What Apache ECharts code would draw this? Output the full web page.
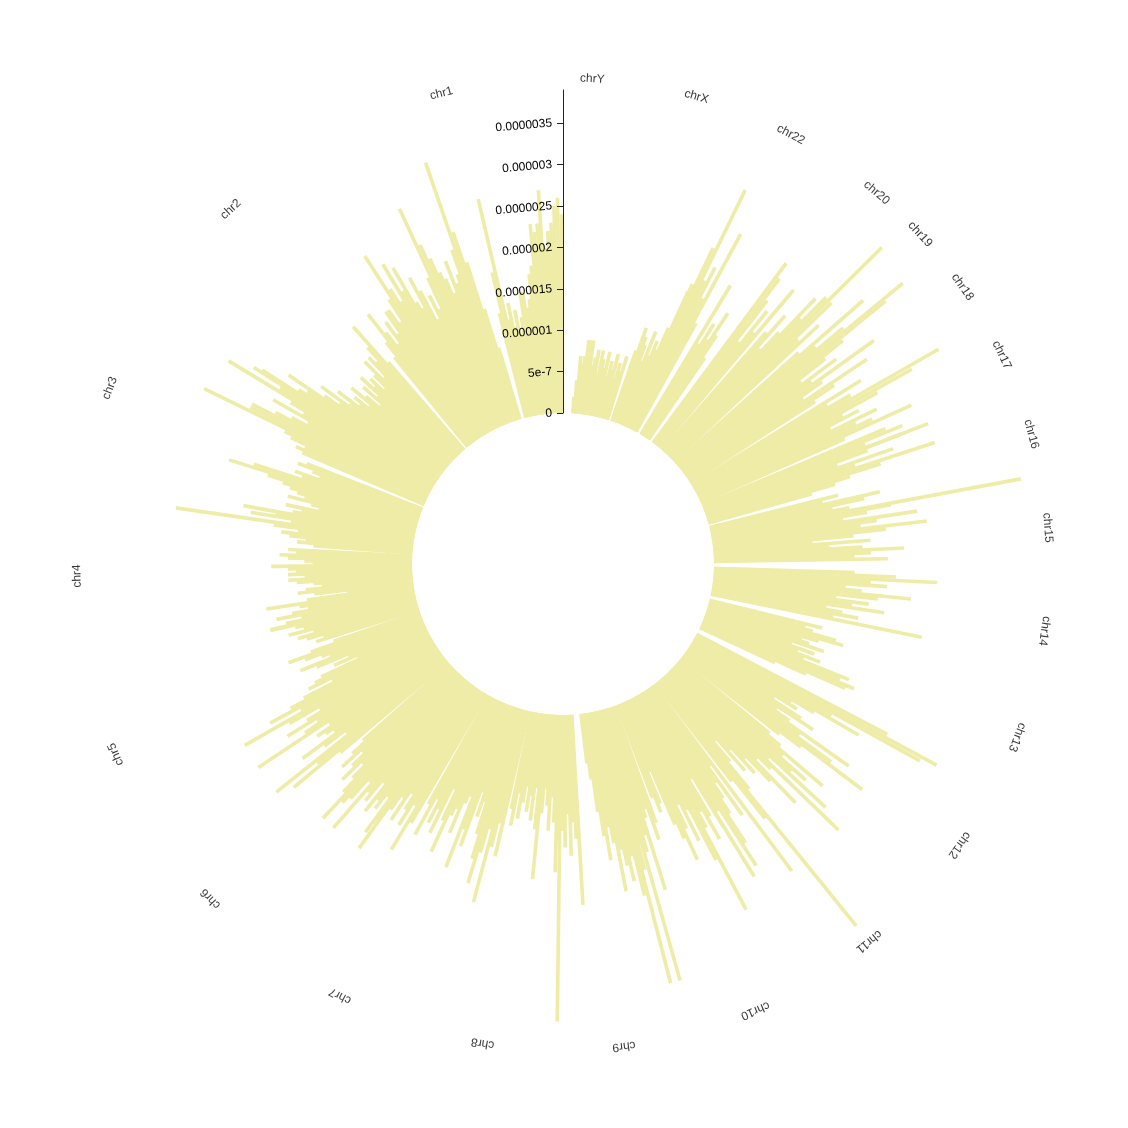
<!DOCTYPE html>
<html>
<head>
<meta charset="utf-8">
<title>Genome-wide circular bar chart</title>
<script src="https://cdn.jsdelivr.net/npm/echarts@6/dist/echarts.min.js"></script>
<style>
  html, body { margin: 0; padding: 0; background: #fff; }
  #main { width: 1128px; height: 1128px; }
</style>
</head>
<body>
<div id="main"></div>
<script>
// chromosomes, counter-clockwise from the top
const chromNames = ['chr1', 'chr2', 'chr3', 'chr4', 'chr5', 'chr6', 'chr7', 'chr8', 'chr9', 'chr10', 'chr11', 'chr12',
  'chr13', 'chr14', 'chr15', 'chr16', 'chr17', 'chr18', 'chr19', 'chr20', 'chr21', 'chr22', 'chrX', 'chrY'];
// chr21 has no label in the original
const chromLabels = ['chr1', 'chr2', 'chr3', 'chr4', 'chr5', 'chr6', 'chr7', 'chr8', 'chr9', 'chr10', 'chr11', 'chr12',
  'chr13', 'chr14', 'chr15', 'chr16', 'chr17', 'chr18', 'chr19', 'chr20', '', 'chr22', 'chrX', 'chrY'];
const chromLengthsMb = [249.25, 243.2, 198.02, 191.15, 180.92, 171.12, 159.14, 146.36, 141.21, 135.53, 135.01, 133.85,
  115.17, 107.35, 102.53, 90.35, 81.2, 78.08, 59.13, 63.03, 48.13, 51.3, 155.27, 59.37];
const BIN_MB = 5;

// bin values, in units of 1e-7
const chr1 = [24, 26, 25, 23, 22, 20, 27, 23, 22, 23, 18, 17, 14, 13, 15, 15, 12, 10, 13, 11, 14, 12, 27, 18,
  13, 0, 0, 0, 9, 14, 20, 24, 33, 22, 19, 18, 21, 17, 19, 20, 22, 24, 29, 20, 16, 18, 15, 19, 21, 17];
const chr2 = [18, 23, 20, 24, 19, 21, 26, 20, 17, 19, 19, 16, 18, 15, 17, 20, 16, 14, 0, 0,
  14, 20, 17, 15, 16, 13, 16, 14, 12, 14, 13, 15, 12, 14, 11, 13, 15, 12, 14, 13, 16, 14, 18, 15, 17, 22, 19, 20, 25];
const chr3 = [26, 22, 29, 20, 18, 22, 17, 19, 21, 24, 24, 30, 19, 18, 16, 17, 16, 0, 0, 15,
  16, 14, 13, 16, 15, 21, 24, 19, 17, 16, 15, 14, 16, 13, 12, 16, 14, 15, 21, 17];
const chr4 = [20, 15, 29, 17, 14, 16, 15, 13, 14, 12, 0, 15, 14, 16, 15, 13, 12, 17, 15, 14,
  15, 13, 15, 14, 12, 11, 13, 14, 12, 8, 13, 18, 14, 13, 15, 17, 14, 16, 18];
const chr5 = [18, 15, 14, 16, 13, 15, 14, 12, 13, 0, 11, 14, 17, 15, 13, 12, 16, 14, 10, 12,
  9, 14, 15, 16, 13, 17, 19, 22, 18, 26, 20, 16, 18, 21, 17, 19, 26];
const chr6 = [14, 16, 18, 17, 16, 21, 18, 15, 26, 20, 24, 17, 0, 14, 16, 18, 15, 17, 19, 16,
  18, 20, 24, 21, 20, 17, 24, 18, 19, 16, 20, 18, 19, 17, 22];
const chr7 = [20, 24, 18, 16, 19, 15, 17, 19, 16, 22, 18, 0, 15, 19, 14, 17, 15, 18, 12, 16,
  20, 15, 14, 17, 13, 12, 21, 16, 18, 11, 14, 12];
const chr8 = [16, 19, 22, 18, 15, 24, 17, 14, 18, 0, 12, 14, 10, 13, 11, 9, 12, 10, 13, 9,
  14, 20, 12, 9, 11, 14, 10, 13, 19, 15];
const chr9 = [37, 14, 16, 12, 17, 13, 15, 23, 0, 0, 0, 0, 0, 6, 8, 12, 15, 18, 14, 16,
  22, 17, 19, 21, 18, 23, 34, 20, 17];
const chr10 = [34, 18, 16, 23, 14, 13, 17, 15, 0, 12, 14, 13, 9, 16, 18, 21, 17, 14, 19, 15,
  22, 29, 18, 16, 20, 17, 12, 19];
const chr11 = [26, 17, 25, 22, 18, 16, 14, 19, 12, 28, 0, 15, 21, 38, 17, 13, 10, 15, 12, 16,
  14, 18, 22, 15, 17, 28, 16];
const chr12 = [25, 19, 21, 17, 23, 16, 14, 0, 15, 18, 27, 22, 17, 24, 15, 13, 18, 16, 12, 15,
  14, 17, 23, 19, 31, 33, 26];
const chr13 = [0, 0, 0, 0, 10, 14, 19, 20, 18, 19, 13, 15, 12, 14, 11, 15, 13, 12, 14, 17, 16, 13, 12, 14];
const chr14 = [0, 0, 0, 0, 26, 15, 18, 16, 14, 21, 17, 19, 15, 20, 24, 18, 16, 21, 19, 27, 22, 17];
const chr15 = [0, 0, 0, 0, 21, 17, 19, 23, 18, 14, 19, 12, 17, 21, 26, 18, 20, 25, 16, 19, 22];
const chr16 = [38, 17, 15, 19, 21, 14, 16, 0, 0, 13, 16, 18, 22, 29, 19, 24, 17, 21, 26];
const chr17 = [29, 21, 26, 24, 0, 19, 28, 23, 21, 24, 18, 22, 20, 25, 30, 34, 22];
const chr18 = [22, 19, 24, 0, 18, 21, 26, 17, 20, 28, 19, 23, 18, 22, 25, 32];
const chr19 = [35, 26, 22, 30, 20, 0, 24, 21, 27, 36, 27, 23];
const chr20 = [26, 20, 17, 22, 19, 0, 25, 18, 21, 16, 22, 25, 27];
const chr21 = [0, 0, 0, 12, 15, 18, 14, 16, 13, 21];
const chr22 = [0, 0, 0, 15, 27, 18, 22, 20, 32, 24, 19];
const chrX = [18, 13, 10, 11, 9, 12, 8, 10, 11, 12, 9, 0, 0, 8, 6, 7, 5, 8, 6, 7,
  5, 8, 6, 7, 8, 5, 8, 7, 6, 9, 9, 5];
const chrY = [9, 7, 6, 7, 4, 2, 0, 0, 0, 0, 0, 0];
const binValues = [chr1, chr2, chr3, chr4, chr5, chr6, chr7, chr8, chr9, chr10, chr11, chr12,
  chr13, chr14, chr15, chr16, chr17, chr18, chr19, chr20, chr21, chr22, chrX, chrY];
const VALUE_UNIT = 1e-7;

const radiusTicks = [0, 5e-7, 1e-6, 1.5e-6, 2e-6, 2.5e-6, 3e-6, 3.5e-6];
const radiusTickLabels = ['0', '5e-7', '0.000001', '0.0000015', '0.000002', '0.0000025', '0.000003', '0.0000035'];

const BAR_COLOR = '#EEECA6';
const BAR_HALF_WIDTH = 1.8;
const FONT = '"Liberation Sans", Arial, sans-serif';

// cumulative offsets along the genome
const offsets = [];
let genomeLength = 0;
chromLengthsMb.forEach(len => { offsets.push(genomeLength); genomeLength += len; });

const barData = [];
binValues.forEach((vals, c) => {
  vals.forEach((v, i) => {
    barData.push([v * VALUE_UNIT, offsets[c] + i * BIN_MB + BIN_MB / 2]);
  });
});

const labelData = [];
chromNames.forEach((name, c) => {
  if (!chromLabels[c]) return;
  const mid = offsets[c] + chromLengthsMb[c] / 2;
  const angle = mid / genomeLength * 360;
  labelData.push({
    name: name,
    value: [1, mid],
    label: { formatter: chromLabels[c], rotate: angle }
  });
});

function renderBar(params, api) {
  const v = api.value(0);
  if (!(v > 0)) return null;
  const pos = api.value(1);
  const p0 = api.coord([0, pos]);
  const p1 = api.coord([v, pos]);
  const dx = p1[0] - p0[0];
  const dy = p1[1] - p0[1];
  const len = Math.sqrt(dx * dx + dy * dy);
  const nx = -dy / len * BAR_HALF_WIDTH;
  const ny = dx / len * BAR_HALF_WIDTH;
  return {
    type: 'polygon',
    silent: true,
    shape: {
      points: [
        [p0[0] + nx, p0[1] + ny],
        [p1[0] + nx, p1[1] + ny],
        [p1[0] - nx, p1[1] - ny],
        [p0[0] - nx, p0[1] - ny]
      ]
    },
    style: { fill: BAR_COLOR }
  };
}

function formatRadius(value) {
  for (let i = 0; i < radiusTicks.length; i++) {
    if (Math.abs(value - radiusTicks[i]) < 1e-10) return radiusTickLabels[i];
  }
  return '';
}

const chart = echarts.init(document.getElementById('main'));

const option = {
  backgroundColor: '#ffffff',
  animation: false,
  polar: [
    { center: [563, 564], radius: [151, 474] },
    { center: [563, 564], radius: [0, 486] }
  ],
  angleAxis: [
    { polarIndex: 0, type: 'value', min: 0, max: genomeLength, startAngle: 90, clockwise: false, show: false },
    { polarIndex: 1, type: 'value', min: 0, max: genomeLength, startAngle: 90, clockwise: false, show: false }
  ],
  radiusAxis: [
    {
      polarIndex: 0,
      type: 'value',
      min: 0,
      max: 3.9e-6,
      interval: 5e-7,
      z: 10,
      axisLine: { show: true, lineStyle: { color: '#222', width: 1 } },
      axisTick: { show: true, length: 6, lineStyle: { color: '#222', width: 1 } },
      axisLabel: {
        show: true,
        margin: 11,
        rotate: 5,
        color: '#000',
        fontSize: 12,
        fontFamily: FONT,
        showMaxLabel: false,
        formatter: formatRadius
      },
      splitLine: { show: false },
      splitArea: { show: false }
    },
    { polarIndex: 1, type: 'value', min: 0, max: 1, show: false }
  ],
  series: [
    {
      name: 'bins',
      type: 'custom',
      coordinateSystem: 'polar',
      polarIndex: 0,
      renderItem: renderBar,
      data: barData,
      z: 2
    },
    {
      name: 'chromosomes',
      type: 'scatter',
      coordinateSystem: 'polar',
      polarIndex: 1,
      symbolSize: 1,
      itemStyle: { color: 'rgba(0,0,0,0)' },
      silent: true,
      label: {
        show: true,
        position: 'inside',
        align: 'center',
        verticalAlign: 'middle',
        color: '#000',
        fontSize: 12,
        fontFamily: FONT
      },
      data: labelData
    }
  ]
};

chart.setOption(option);
</script>
</body>
</html>
